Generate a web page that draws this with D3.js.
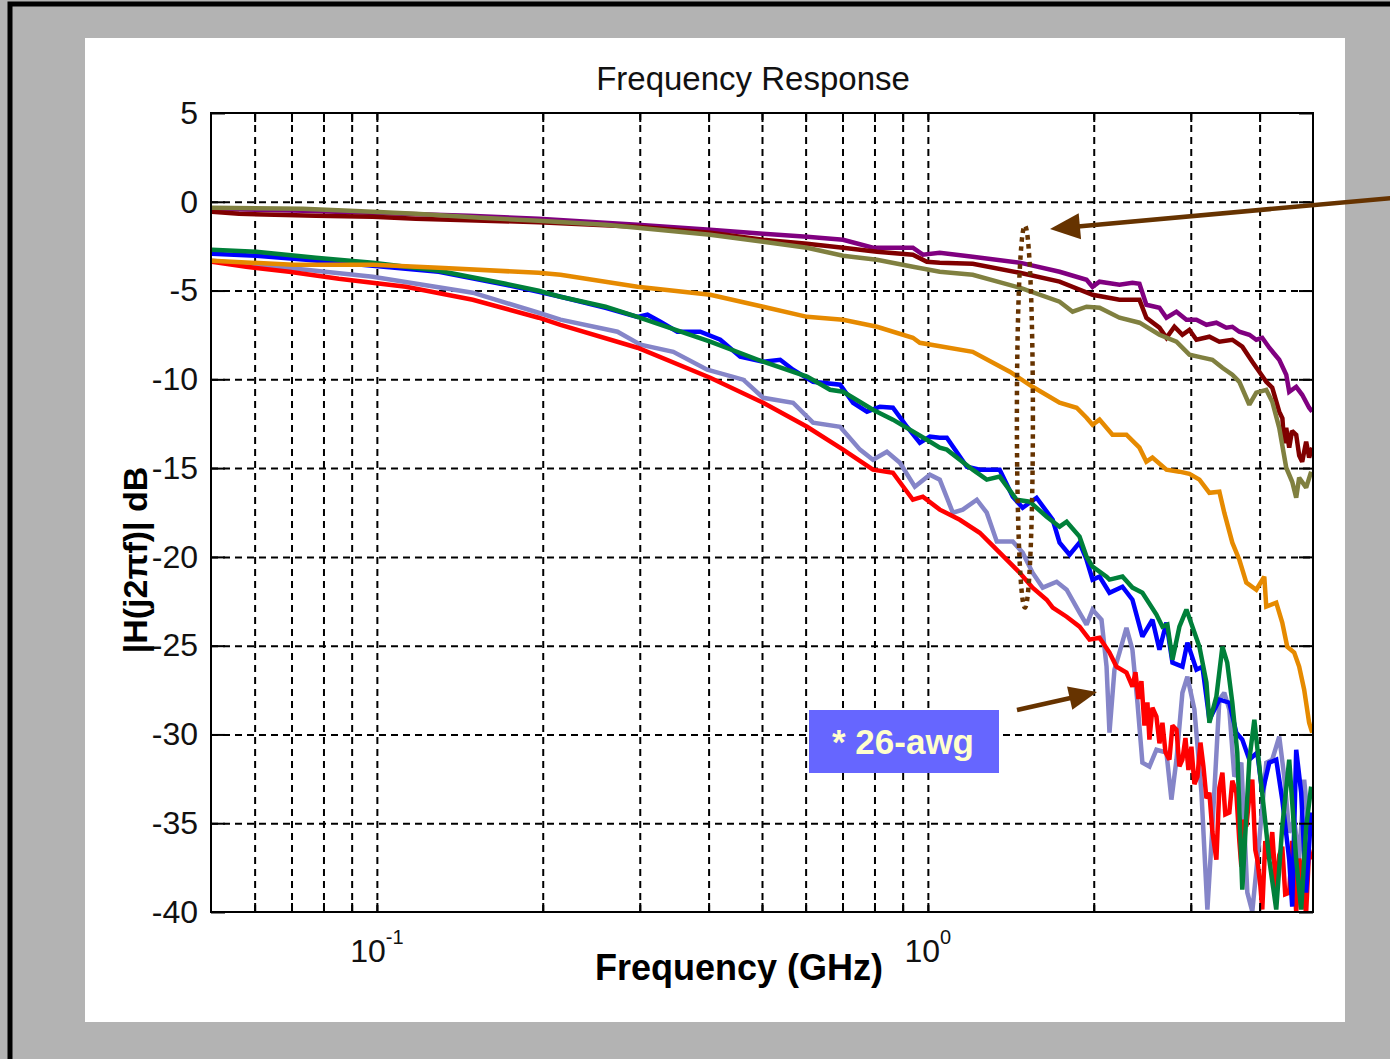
<!DOCTYPE html>
<html>
<head>
<meta charset="utf-8">
<script src="https://cdn.jsdelivr.net/npm/d3@7"></script>
<style>
  body { margin: 0; background: #b3b3b3; }
  svg { display: block; }
</style>
</head>
<body>
<svg id="chart" width="1390" height="1059"></svg>
<script>
// Measured channel responses: [frequency in GHz, magnitude in dB]
const purple = [[0.0502,-0.39],[0.0734,-0.51],[0.0967,-0.62],[0.1468,-0.79],[0.1966,-0.96],[0.2971,-1.30],[0.4027,-1.58],[0.5025,-1.80],[0.6036,-1.97],[0.7016,-2.14],[0.795,-2.59],[0.9393,-2.59],[0.9793,-2.98],[1.051,-2.87],[1.206,-3.10],[1.468,-3.43],[1.734,-3.94],[1.941,-4.39],[1.990,-4.79],[2.049,-4.50],[2.227,-4.67],[2.351,-4.56],[2.421,-4.62],[2.492,-5.80],[2.632,-5.97],[2.710,-6.53],[2.826,-6.19],[2.946,-6.64],[3.072,-6.64],[3.203,-6.93],[3.339,-6.81],[3.480,-7.09],[3.569,-7.04],[3.675,-7.32],[3.832,-7.49],[3.945,-7.77],[4.045,-7.66],[4.165,-8.22],[4.342,-8.90],[4.471,-9.74],[4.527,-10.70],[4.661,-10.42],[4.779,-10.87],[4.920,-11.60],[4.983,-11.82]];

const maroon = [[0.0502,-0.56],[0.0562,-0.68],[0.0775,-0.79],[0.0983,-0.84],[0.1177,-0.96],[0.1966,-1.15],[0.2971,-1.41],[0.4027,-1.75],[0.5025,-2.14],[0.6036,-2.36],[0.7016,-2.59],[0.8083,-2.82],[0.9393,-2.98],[0.9958,-3.38],[1.051,-3.43],[1.206,-3.49],[1.468,-4.00],[1.734,-4.50],[1.990,-5.24],[2.227,-5.52],[2.421,-5.52],[2.492,-6.53],[2.632,-7.09],[2.710,-7.66],[2.802,-7.04],[2.897,-7.49],[2.983,-7.21],[3.072,-7.77],[3.243,-7.60],[3.381,-7.88],[3.569,-7.77],[3.721,-8.16],[3.880,-9.01],[3.995,-9.57],[4.113,-10.14],[4.217,-10.47],[4.342,-11.82],[4.40,-12.20],[4.43,-13.60],[4.471,-12.73],[4.527,-13.85],[4.58,-12.90],[4.661,-13.12],[4.72,-14.30],[4.779,-14.64],[4.859,-13.51],[4.92,-14.40],[4.983,-13.85]];

const olive = [[0.0502,-0.34],[0.0734,-0.39],[0.0983,-0.56],[0.1177,-0.68],[0.1543,-0.90],[0.1966,-1.07],[0.260,-1.30],[0.2971,-1.46],[0.4027,-1.86],[0.5025,-2.25],[0.6036,-2.59],[0.7016,-3.04],[0.8083,-3.27],[0.9393,-3.66],[1.051,-3.94],[1.206,-4.11],[1.468,-4.84],[1.734,-5.63],[1.831,-6.19],[1.941,-5.91],[2.049,-5.97],[2.227,-6.53],[2.421,-6.81],[2.632,-7.49],[2.826,-7.88],[2.983,-8.61],[3.150,-8.78],[3.284,-8.90],[3.424,-9.35],[3.569,-9.74],[3.675,-10.14],[3.832,-11.43],[3.945,-10.75],[4.113,-10.59],[4.217,-11.26],[4.342,-12.73],[4.471,-14.98],[4.584,-15.77],[4.661,-16.67],[4.719,-15.54],[4.859,-16.10],[4.962,-15.20]];

const orange = [[0.0502,-3.32],[0.0705,-3.55],[0.0983,-3.55],[0.1295,-3.72],[0.1966,-4.00],[0.2154,-4.11],[0.2971,-4.79],[0.4027,-5.24],[0.5025,-5.91],[0.6036,-6.48],[0.7016,-6.64],[0.8083,-7.04],[0.9393,-7.66],[0.967,-7.94],[1.206,-8.45],[1.408,-9.57],[1.549,-10.42],[1.734,-11.32],[1.862,-11.60],[1.941,-12.16],[1.990,-12.56],[2.049,-12.27],[2.163,-13.12],[2.293,-13.12],[2.421,-13.85],[2.492,-14.64],[2.556,-14.41],[2.710,-15.09],[2.861,-15.20],[2.983,-15.32],[3.111,-15.65],[3.243,-16.39],[3.381,-16.33],[3.451,-17.51],[3.569,-19.20],[3.675,-20.16],[3.784,-21.45],[3.945,-21.85],[4.079,-21.11],[4.113,-22.80],[4.288,-22.58],[4.397,-23.70],[4.490,-25.06],[4.622,-25.39],[4.719,-26.18],[4.819,-27.48],[4.920,-29.34],[4.983,-29.90]];

const green = [[0.0502,-2.70],[0.0604,-2.82],[0.0775,-3.15],[0.0983,-3.43],[0.1295,-3.89],[0.1713,-4.62],[0.1966,-5.01],[0.2154,-5.35],[0.260,-5.91],[0.2971,-6.48],[0.4027,-7.88],[0.5025,-9.01],[0.6036,-9.85],[0.6646,-10.59],[0.7016,-10.70],[0.795,-11.71],[0.8641,-12.27],[0.9958,-13.40],[1.051,-13.85],[1.0824,-13.96],[1.206,-15.09],[1.279,-15.65],[1.350,-15.48],[1.449,-16.78],[1.530,-16.89],[1.643,-17.74],[1.734,-18.30],[1.786,-18.02],[1.885,-18.86],[1.941,-19.99],[1.990,-20.55],[2.110,-21.11],[2.136,-21.28],[2.255,-21.11],[2.351,-21.73],[2.451,-22.02],[2.599,-23.25],[2.665,-23.93],[2.721,-23.82],[2.779,-25.79],[2.861,-23.93],[2.946,-22.97],[3.021,-23.93],[3.111,-25.06],[3.203,-27.08],[3.243,-29.34],[3.339,-27.87],[3.424,-25.06],[3.494,-25.96],[3.569,-28.21],[3.644,-31.02],[3.721,-38.74],[3.832,-31.42],[3.913,-29.17],[3.995,-31.81],[4.079,-34.40],[4.165,-37.05],[4.288,-39.86],[4.397,-35.19],[4.527,-31.42],[4.661,-37.05],[4.759,-39.86],[4.859,-35.19],[4.962,-32.94]];

const blue = [[0.0502,-2.93],[0.0604,-3.04],[0.0744,-3.27],[0.0983,-3.60],[0.1295,-3.94],[0.1713,-4.67],[0.1966,-5.07],[0.2154,-5.35],[0.260,-5.97],[0.2971,-6.48],[0.3098,-6.36],[0.327,-6.76],[0.351,-7.32],[0.3863,-7.32],[0.42,-7.77],[0.4565,-8.73],[0.5025,-9.01],[0.5395,-8.90],[0.5693,-9.46],[0.6189,-10.14],[0.693,-10.30],[0.7315,-11.32],[0.7754,-11.82],[0.8185,-11.54],[0.8641,-11.60],[0.9162,-12.67],[0.967,-13.57],[1.0084,-13.23],[1.051,-13.29],[1.0824,-13.29],[1.177,-14.92],[1.242,-15.09],[1.350,-15.09],[1.426,-16.61],[1.486,-17.23],[1.575,-16.67],[1.685,-17.91],[1.734,-19.20],[1.808,-19.88],[1.885,-19.20],[1.941,-20.16],[1.990,-21.28],[2.049,-21.11],[2.136,-22.02],[2.255,-21.68],[2.351,-22.41],[2.451,-24.49],[2.556,-23.54],[2.632,-25.23],[2.710,-23.70],[2.779,-25.96],[2.897,-26.18],[2.958,-24.83],[3.072,-26.35],[3.150,-26.18],[3.243,-29.17],[3.381,-28.04],[3.525,-28.21],[3.629,-29.90],[3.721,-30.29],[3.832,-31.42],[3.962,-31.02],[4.045,-33.28],[4.165,-31.59],[4.288,-31.42],[4.397,-33.67],[4.527,-37.05],[4.584,-39.70],[4.661,-30.86],[4.759,-33.28],[4.859,-38.91],[4.962,-34.40]];

const red = [[0.0502,-3.38],[0.0579,-3.66],[0.0693,-3.94],[0.0853,-4.34],[0.1129,-4.79],[0.1493,-5.52],[0.1966,-6.53],[0.2154,-6.93],[0.2971,-8.22],[0.4027,-9.91],[0.5025,-11.32],[0.6036,-12.67],[0.7016,-13.96],[0.795,-15.09],[0.8641,-15.26],[0.9393,-16.78],[0.9793,-16.61],[1.051,-17.34],[1.1428,-17.91],[1.242,-18.64],[1.350,-19.76],[1.468,-20.89],[1.549,-21.73],[1.643,-22.41],[1.685,-22.86],[1.786,-23.37],[1.885,-23.93],[1.965,-24.66],[2.049,-24.55],[2.136,-25.39],[2.199,-26.18],[2.293,-26.52],[2.351,-27.31],[2.381,-26.50],[2.411,-28.00],[2.441,-27.00],[2.472,-29.50],[2.503,-28.20],[2.524,-30.29],[2.556,-28.50],[2.599,-28.99],[2.632,-30.50],[2.665,-29.34],[2.699,-31.00],[2.744,-31.42],[2.779,-29.50],[2.826,-29.73],[2.861,-31.80],[2.897,-31.42],[2.934,-30.20],[2.971,-32.00],[3.008,-30.69],[3.046,-32.80],[3.085,-32.38],[3.124,-30.46],[3.163,-31.80],[3.203,-33.60],[3.243,-33.28],[3.284,-35.50],[3.339,-37.05],[3.381,-33.00],[3.424,-32.15],[3.466,-34.50],[3.525,-34.40],[3.569,-32.60],[3.629,-33.28],[3.675,-36.00],[3.706,-37.44],[3.752,-34.80],[3.784,-35.19],[3.832,-33.50],[3.880,-32.55],[3.929,-36.50],[3.962,-37.05],[4.012,-38.50],[4.045,-39.86],[4.096,-36.00],[4.165,-37.05],[4.217,-35.50],[4.288,-38.91],[4.342,-36.80],[4.397,-36.32],[4.452,-39.00],[4.527,-38.91],[4.584,-36.00],[4.661,-40.00],[4.719,-37.00],[4.759,-37.44],[4.819,-39.50],[4.859,-40.00],[4.920,-36.50],[4.962,-37.05]];

const lavender = [[0.0502,-3.32],[0.0744,-3.83],[0.0983,-4.22],[0.1493,-5.12],[0.1966,-6.25],[0.2154,-6.64],[0.2733,-7.32],[0.3009,-8.05],[0.3451,-8.45],[0.3977,-9.46],[0.4623,-10.02],[0.5025,-11.04],[0.5693,-11.32],[0.6189,-12.44],[0.693,-12.67],[0.753,-13.96],[0.795,-14.53],[0.8427,-14.08],[0.8898,-14.70],[0.947,-16.05],[1.0084,-15.37],[1.051,-15.65],[1.110,-17.51],[1.157,-17.34],[1.227,-16.78],[1.279,-17.51],[1.334,-19.14],[1.426,-19.14],[1.486,-19.76],[1.549,-20.89],[1.616,-21.73],[1.713,-21.40],[1.786,-21.85],[1.885,-23.14],[1.941,-23.82],[1.990,-22.97],[2.066,-23.54],[2.110,-26.18],[2.136,-29.90],[2.181,-26.35],[2.227,-25.39],[2.293,-23.99],[2.351,-25.23],[2.401,-28.21],[2.451,-31.59],[2.524,-31.81],[2.599,-30.86],[2.710,-31.02],[2.767,-33.67],[2.826,-31.42],[2.897,-27.65],[2.958,-26.75],[3.046,-28.60],[3.137,-33.28],[3.216,-39.86],[3.284,-35.19],[3.381,-28.04],[3.451,-27.65],[3.525,-28.60],[3.599,-32.38],[3.706,-31.59],[3.800,-38.91],[3.880,-39.98],[3.995,-35.92],[4.113,-31.59],[4.217,-31.42],[4.342,-30.12],[4.434,-32.38],[4.527,-35.53],[4.622,-34.80],[4.719,-37.05],[4.819,-32.55],[4.920,-35.53],[4.983,-34.40]];

// Axis ticks and grid positions
const yTicks = [5, 0, -5, -10, -15, -20, -25, -30, -35, -40];
const yGrid = [0, -5, -10, -15, -20, -25, -30, -35];
const xGrid = [0.06, 0.07, 0.08, 0.09, 0.1, 0.2, 0.3, 0.4, 0.5, 0.6, 0.7, 0.8, 0.9, 1, 2, 3, 4];
const xDecades = [0.1, 1];
const xDecadeExp = ["-1", "0"];

// Drawing order: later entries sit on top
const series = [
  { data: lavender, color: "#8585c8" },
  { data: red,      color: "#ff0000" },
  { data: blue,     color: "#0000ff" },
  { data: green,    color: "#00803a" },
  { data: orange,   color: "#e68a00" },
  { data: purple,   color: "#800080" },
  { data: maroon,   color: "#800000" },
  { data: olive,    color: "#808040" }
];

const W = 1390, H = 1059;
const plot = { left: 211, right: 1313, top: 113, bottom: 912 };
const FONT = "'Liberation Sans', Arial, Helvetica, sans-serif";
const BROWN = "#663300";

const svg = d3.select("#chart");

// Gray slide background, black frame and white figure panel
svg.append("rect").attr("width", W).attr("height", H).attr("fill", "#b3b3b3");
svg.append("rect").attr("x", 10).attr("y", 4).attr("width", W + 20).attr("height", H + 20)
  .attr("fill", "none").attr("stroke", "#000").attr("stroke-width", 5);
svg.append("rect").attr("x", 85).attr("y", 38).attr("width", 1260).attr("height", 984).attr("fill", "#fff");

const x = d3.scaleLog().domain([0.05, 5]).range([plot.left, plot.right]);
const y = d3.scaleLinear().domain([-40, 5]).range([plot.bottom, plot.top]);

// Dashed grid
const gridStyle = g => {
  g.select(".domain").remove();
  g.selectAll(".tick line").attr("stroke", "#000").attr("stroke-width", 2).attr("stroke-dasharray", "7,5");
};
svg.append("g").attr("transform", `translate(0,${plot.bottom})`)
  .call(d3.axisBottom(x).tickValues(xGrid).tickSize(-(plot.bottom - plot.top)).tickFormat(""))
  .call(gridStyle);
svg.append("g").attr("transform", `translate(${plot.left},0)`)
  .call(d3.axisLeft(y).tickValues(yGrid).tickSize(-(plot.right - plot.left)).tickFormat(""))
  .call(gridStyle);

// Curves, clipped to the axes box
svg.append("clipPath").attr("id", "plotClip").append("rect")
  .attr("x", plot.left).attr("y", plot.top)
  .attr("width", plot.right - plot.left).attr("height", plot.bottom - plot.top);

const line = d3.line().x(d => x(d[0])).y(d => y(d[1]));
svg.append("g").attr("clip-path", "url(#plotClip)")
  .selectAll("path").data(series).join("path")
  .attr("d", d => line(d.data))
  .attr("fill", "none")
  .attr("stroke", d => d.color)
  .attr("stroke-width", 4.5)
  .attr("stroke-linejoin", "miter")
  .attr("stroke-miterlimit", 2);

// Inward tick marks on all four sides
const tickStyle = g => {
  g.select(".domain").remove();
  g.selectAll(".tick line").attr("stroke", "#000").attr("stroke-width", 2);
};
svg.append("g").attr("transform", `translate(0,${plot.bottom})`)
  .call(d3.axisBottom(x).tickValues(xGrid).tickSize(-9).tickFormat("")).call(tickStyle);
svg.append("g").attr("transform", `translate(0,${plot.top})`)
  .call(d3.axisTop(x).tickValues(xGrid).tickSize(-9).tickFormat("")).call(tickStyle);
svg.append("g").attr("transform", `translate(${plot.right},0)`)
  .call(d3.axisRight(y).tickValues(yTicks).tickSize(-14).tickFormat("")).call(tickStyle);

const yAxis = svg.append("g").attr("transform", `translate(${plot.left},0)`)
  .call(d3.axisLeft(y).tickValues(yTicks).tickSize(-14).tickPadding(13).tickFormat(d => String(d)))
  .call(tickStyle);
yAxis.selectAll(".tick text")
  .attr("font-family", FONT).attr("font-size", 32).attr("fill", "#111");

// Decade labels 10^-1, 10^0
const xLab = svg.append("g").selectAll("text").data(xDecades).join("text")
  .attr("x", d => x(d)).attr("y", 962)
  .attr("text-anchor", "middle")
  .attr("font-family", FONT).attr("font-size", 32).attr("fill", "#111");
xLab.append("tspan").text("10");
xLab.append("tspan").attr("dy", -18).attr("font-size", 20).text((d, i) => xDecadeExp[i]);

// Axes box
svg.append("rect")
  .attr("x", plot.left).attr("y", plot.top)
  .attr("width", plot.right - plot.left).attr("height", plot.bottom - plot.top)
  .attr("fill", "none").attr("stroke", "#000").attr("stroke-width", 2);

// Title and axis labels
svg.append("text").attr("x", 753).attr("y", 90).attr("text-anchor", "middle")
  .attr("font-family", FONT).attr("font-size", 33).attr("fill", "#111")
  .text("Frequency Response");
svg.append("text").attr("x", 739).attr("y", 980).attr("text-anchor", "middle")
  .attr("font-family", FONT).attr("font-size", 36).attr("font-weight", "bold")
  .text("Frequency (GHz)");
svg.append("text").attr("transform", "translate(147,560) rotate(-90)")
  .attr("text-anchor", "middle")
  .attr("font-family", FONT).attr("font-size", 34).attr("font-weight", "bold")
  .text("|H(j2\u03c0f)| dB");

// Callouts: dotted ellipse around the 1.5 GHz spread and two arrows
svg.append("ellipse")
  .attr("cx", x(1.5)).attr("cy", y(-12.1)).attr("rx", 8).attr("ry", 191)
  .attr("fill", "none").attr("stroke", BROWN).attr("stroke-width", 4.5)
  .attr("stroke-dasharray", "4.5,4.5");

function arrow(x0, y0, x1, y1, headLen, headHalf) {
  const dx = x1 - x0, dy = y1 - y0, len = Math.hypot(dx, dy);
  const ux = dx / len, uy = dy / len;
  const bx = x1 - ux * headLen, by = y1 - uy * headLen;
  svg.append("line").attr("x1", x0).attr("y1", y0).attr("x2", bx + ux * 2).attr("y2", by + uy * 2)
    .attr("stroke", BROWN).attr("stroke-width", 4.5);
  svg.append("path")
    .attr("d", `M${x1},${y1}L${bx - uy * headHalf},${by + ux * headHalf}L${bx + uy * headHalf},${by - ux * headHalf}Z`)
    .attr("fill", BROWN);
}
arrow(1392, 198, 1050, 229, 30, 13);
arrow(1017, 710, 1097, 692, 28, 12);

// Cable gauge tag
svg.append("rect").attr("x", 809).attr("y", 710).attr("width", 190).attr("height", 63).attr("fill", "#6666ff");
svg.append("text").attr("x", 903).attr("y", 754).attr("text-anchor", "middle")
  .attr("font-family", FONT).attr("font-size", 35).attr("font-weight", "bold").attr("fill", "#ffffcc")
  .text("* 26-awg");
</script>
</body>
</html>
